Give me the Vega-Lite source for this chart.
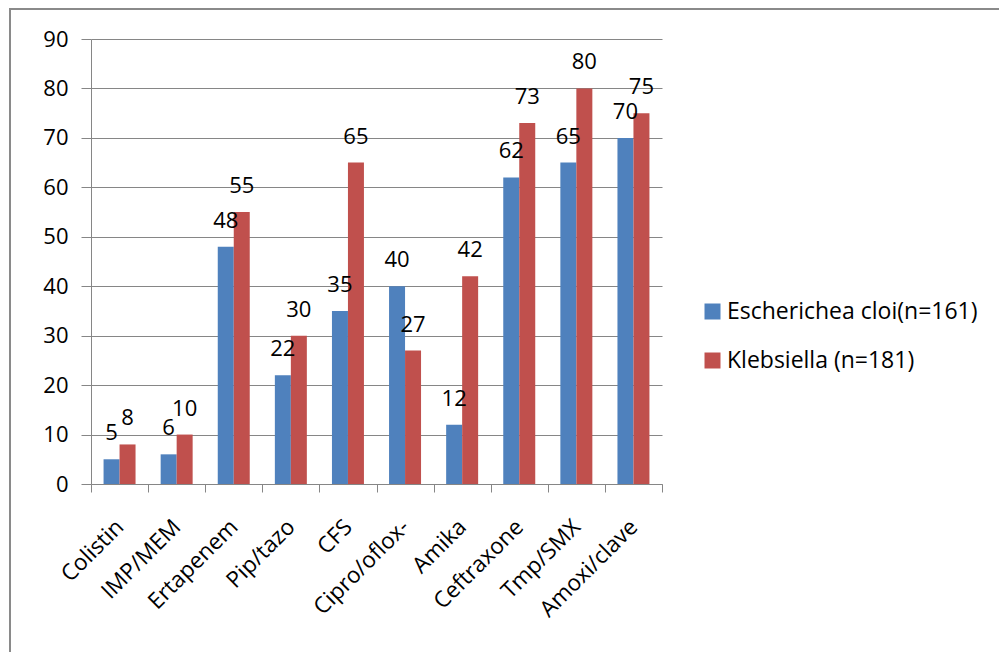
{
  "$schema": "https://vega.github.io/schema/vega-lite/v6.json",
  "width": 1000,
  "height": 660,
  "autosize": {"type": "none"},
  "padding": {"left": 10, "top": 9, "right": 0, "bottom": 0},
  "background": "white",
  "config": {
    "font": "Open Sans",
    "view": {"stroke": "#8a8a8a", "strokeWidth": 2}
  },
  "data": {
    "values": [
      {"drug": "Colistin", "organism": "Escherichea cloi(n=161)", "pct": 5},
      {"drug": "Colistin", "organism": "Klebsiella (n=181)", "pct": 8},
      {"drug": "IMP/MEM", "organism": "Escherichea cloi(n=161)", "pct": 6},
      {"drug": "IMP/MEM", "organism": "Klebsiella (n=181)", "pct": 10},
      {"drug": "Ertapenem", "organism": "Escherichea cloi(n=161)", "pct": 48},
      {"drug": "Ertapenem", "organism": "Klebsiella (n=181)", "pct": 55},
      {"drug": "Pip/tazo", "organism": "Escherichea cloi(n=161)", "pct": 22},
      {"drug": "Pip/tazo", "organism": "Klebsiella (n=181)", "pct": 30},
      {"drug": "CFS", "organism": "Escherichea cloi(n=161)", "pct": 35},
      {"drug": "CFS", "organism": "Klebsiella (n=181)", "pct": 65},
      {"drug": "Cipro/oflox-", "organism": "Escherichea cloi(n=161)", "pct": 40},
      {"drug": "Cipro/oflox-", "organism": "Klebsiella (n=181)", "pct": 27},
      {"drug": "Amika", "organism": "Escherichea cloi(n=161)", "pct": 12},
      {"drug": "Amika", "organism": "Klebsiella (n=181)", "pct": 42},
      {"drug": "Ceftraxone", "organism": "Escherichea cloi(n=161)", "pct": 62},
      {"drug": "Ceftraxone", "organism": "Klebsiella (n=181)", "pct": 73},
      {"drug": "Tmp/SMX", "organism": "Escherichea cloi(n=161)", "pct": 65},
      {"drug": "Tmp/SMX", "organism": "Klebsiella (n=181)", "pct": 80},
      {"drug": "Amoxi/clave", "organism": "Escherichea cloi(n=161)", "pct": 70},
      {"drug": "Amoxi/clave", "organism": "Klebsiella (n=181)", "pct": 75}
    ]
  },
  "encoding": {
    "x": {
      "field": "drug",
      "type": "nominal",
      "sort": null,
      "scale": {"range": [81, 652], "paddingInner": 0, "paddingOuter": 0},
      "axis": {
        "title": null,
        "offset": -185,
        "labelAngle": -45,
        "labelAlign": "right",
        "labelBaseline": "middle",
        "labelFontSize": 22.5,
        "labelColor": "#000000",
        "labelPadding": 31,
        "tickBand": "extent",
        "tickSize": 8,
        "tickColor": "#868686",
        "domainColor": "#868686",
        "grid": false
      }
    },
    "xOffset": {
      "field": "organism",
      "sort": ["Escherichea cloi(n=161)", "Klebsiella (n=181)"],
      "scale": {"paddingInner": 0, "paddingOuter": 0.785}
    },
    "y": {
      "field": "pct",
      "type": "quantitative",
      "scale": {"domain": [0, 90], "range": [475, 30], "nice": false, "zero": true},
      "axis": {
        "title": null,
        "offset": -81,
        "values": [0, 10, 20, 30, 40, 50, 60, 70, 80, 90],
        "grid": true,
        "gridColor": "#868686",
        "gridOpacity": 1,
        "tickSize": 10,
        "tickColor": "#868686",
        "domainColor": "#868686",
        "labelFontSize": 22,
        "labelColor": "#000000",
        "labelPadding": 13
      }
    }
  },
  "layer": [
    {
      "mark": {"type": "bar"},
      "encoding": {
        "color": {
          "field": "organism",
          "type": "nominal",
          "scale": {
            "domain": ["Escherichea cloi(n=161)", "Klebsiella (n=181)"],
            "range": ["#4F81BD", "#C0504D"]
          },
          "legend": {
            "title": null,
            "orient": "none",
            "legendX": 691,
            "legendY": 291,
            "padding": 0,
            "symbolType": "square",
            "symbolSize": 256,
            "symbolStrokeWidth": 0,
            "labelFontSize": 23,
            "labelColor": "#000000",
            "labelOffset": 3,
            "labelLimit": 400,
            "rowPadding": 25
          }
        }
      }
    },
    {
      "mark": {"type": "text", "dy": -19, "baseline": "alphabetic", "fontSize": 22, "color": "#000000"},
      "encoding": {"text": {"field": "pct", "type": "quantitative"}}
    }
  ]
}
